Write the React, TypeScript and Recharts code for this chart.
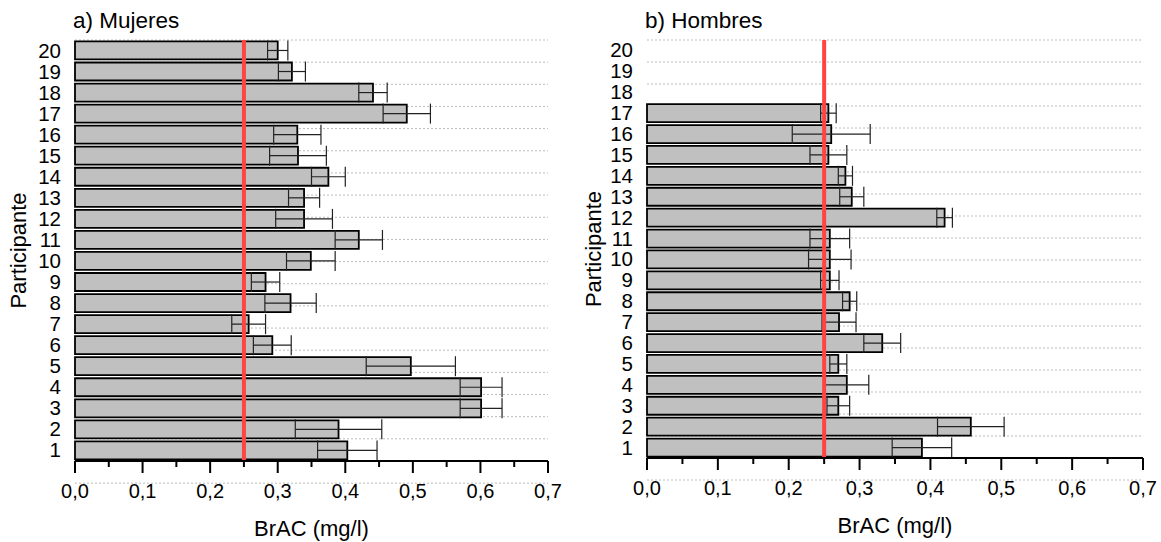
import React from 'react';
import {
  ComposedChart,
  Bar,
  ErrorBar,
  XAxis,
  YAxis,
  CartesianGrid,
  ReferenceLine,
} from 'recharts';

// participantes 1..20 (1 abajo, 20 arriba)
const PARTICIPANTS = ['1', '2', '3', '4', '5', '6', '7', '8', '9', '10', '11', '12', '13', '14', '15', '16', '17', '18', '19', '20'];

const WOMEN_BRAC = [0.403, 0.39, 0.601, 0.601, 0.497, 0.292, 0.257, 0.319, 0.282, 0.349, 0.42, 0.339, 0.339, 0.375, 0.33, 0.329, 0.491, 0.441, 0.321, 0.3];
const WOMEN_ERR = [0.044, 0.064, 0.031, 0.031, 0.066, 0.028, 0.025, 0.038, 0.021, 0.036, 0.035, 0.042, 0.023, 0.025, 0.042, 0.035, 0.035, 0.021, 0.02, 0.015];

const MEN_BRAC = [0.388, 0.457, 0.27, 0.282, 0.27, 0.332, 0.271, 0.286, 0.258, 0.258, 0.258, 0.42, 0.289, 0.28, 0.256, 0.26, 0.256, null, null, null];
const MEN_ERR = [0.042, 0.047, 0.016, 0.031, 0.012, 0.026, 0.024, 0.01, 0.013, 0.03, 0.028, 0.011, 0.017, 0.01, 0.026, 0.055, 0.011, null, null, null];

const LIMIT = 0.25;

const X_TICKS = [0, 0.05, 0.1, 0.15, 0.2, 0.25, 0.3, 0.35, 0.4, 0.45, 0.5, 0.55, 0.6, 0.65, 0.7];
const Y_BOUNDS = [0, 1, 2, 3, 4, 5, 6, 7, 8, 9, 10, 11, 12, 13, 14, 15, 16, 17, 18, 19, 20];

const women = PARTICIPANTS.map((p, i) => ({ p, v: WOMEN_BRAC[i], e: WOMEN_ERR[i] }));
const men = PARTICIPANTS.map((p, i) => ({ p, v: MEN_BRAC[i], e: MEN_ERR[i] }));

const FONT = '"Liberation Sans", Arial, sans-serif';

const XTick = (props: any) => {
  const { x, y, payload, index } = props;
  const major = index % 2 === 0;
  return (
    <g>
      <line x1={x} x2={x} y1={y} y2={y + (major ? 12 : 6)} stroke="#000" strokeWidth={2} />
      {major && (
        <text x={x} y={y + 37} textAnchor="middle" fontSize={20} fill="#000">
          {payload.value.toFixed(1).replace('.', ',')}
        </text>
      )}
    </g>
  );
};

const YTick = (props: any) => {
  const { x, y, payload } = props;
  return (
    <text x={x} y={y} dy={7} textAnchor="end" fontSize={20.5} fill="#000">
      {payload.value}
    </text>
  );
};

// marcas en los limites entre participantes, cruzando el eje
const BoundTick = (props: any) => {
  const { x, y } = props;
  return <line x1={x - 6} x2={x + 5} y1={y} y2={y} stroke="#000" strokeWidth={2} />;
};

const Panel = ({ data, title, width, left, right, bottom, labelOffset }: any) => (
  <div style={{ position: 'absolute', left: left.x, top: 0, width, height: 542 }}>
    <div style={{ position: 'absolute', left: left.axis - 2, top: 8, fontSize: 22.5, lineHeight: '26px' }}>{title}</div>
    <ComposedChart
      layout="vertical"
      width={width}
      height={542}
      data={data}
      barCategoryGap="7%"
      margin={{ top: 40, right, left: 0, bottom: 0 }}
    >
      <CartesianGrid yAxisId="grid" vertical={false} stroke="#bbb" strokeDasharray="2 2" />
      <YAxis
        yAxisId="grid"
        type="number"
        domain={[0, 20]}
        allowDataOverflow
        ticks={Y_BOUNDS}
        interval={0}
        width={0}
        tickSize={0}
        tickMargin={0}
        tickLine={false}
        tick={<BoundTick />}
        axisLine={{ stroke: '#000', strokeWidth: 2 }}
      />
      <YAxis
        type="category"
        dataKey="p"
        reversed
        interval={0}
        width={left.axis}
        tickSize={0}
        tickMargin={14}
        tickLine={false}
        axisLine={false}
        tick={<YTick />}
        label={{ value: 'Participante', angle: -90, position: 'insideLeft', offset: 18, fill: '#000', fontSize: 22, style: { textAnchor: 'middle' } }}
      />
      <XAxis
        type="number"
        domain={[0, 0.7]}
        ticks={X_TICKS}
        interval={0}
        height={542 - bottom}
        tickSize={0}
        tickMargin={0}
        tickLine={false}
        tick={<XTick />}
        axisLine={{ stroke: '#000', strokeWidth: 2 }}
        label={{ value: 'BrAC (mg/l)', position: 'insideBottom', offset: labelOffset, fill: '#000', fontSize: 22 }}
      />
      <Bar dataKey="v" fill="#c0c0c0" stroke="#000" strokeWidth={1.8} isAnimationActive={false}>
        <ErrorBar dataKey="e" direction="x" width={10} stroke="#222" strokeWidth={1.2} />
      </Bar>
      <ReferenceLine x={LIMIT} stroke="#ff4444" strokeWidth={4} />
    </ComposedChart>
  </div>
);

export default function App() {
  return (
    <div style={{ position: 'absolute', left: 0, top: 0, width: 1161, height: 542, background: '#fff', fontFamily: FONT, color: '#000' }}>
      <Panel data={women} title="a) Mujeres" width={575} left={{ x: 0, axis: 75 }} right={27} bottom={461} labelOffset={6} />
      <Panel data={men} title="b) Hombres" width={586} left={{ x: 575, axis: 72 }} right={18} bottom={458} labelOffset={9} />
    </div>
  );
}
